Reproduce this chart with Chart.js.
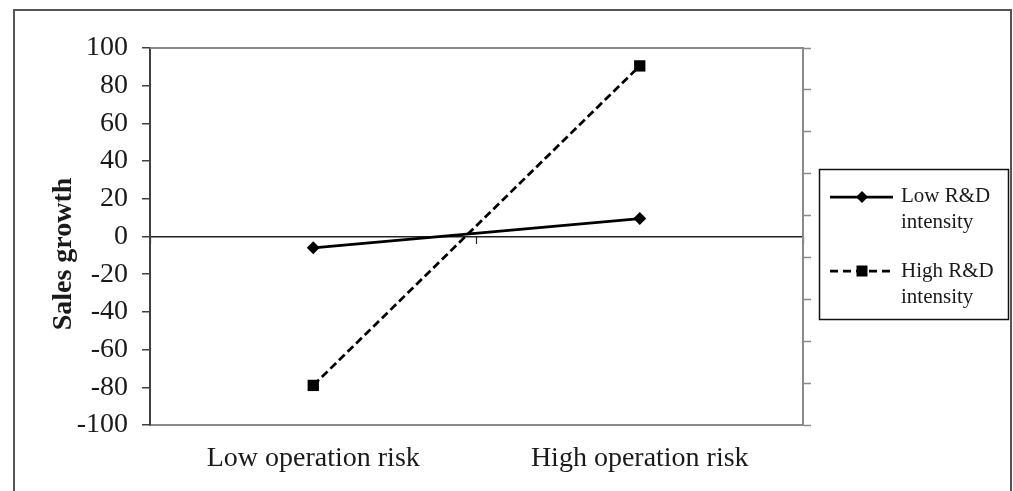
<!DOCTYPE html>
<html>
<head>
<meta charset="utf-8">
<script src="https://cdn.jsdelivr.net/npm/chart.js@4/dist/chart.umd.min.js"></script>
<style>
  html, body { margin: 0; padding: 0; background: #ffffff; overflow: hidden; }
  #wrap { position: relative; width: 1013px; height: 491px; }
  #frame { position: absolute; left: 13px; top: 9px; width: 999px; height: 500px; border: 2px solid #555555; box-sizing: border-box; }
  #c { position: absolute; left: 0; top: 0; }
</style>
</head>
<body>
<div id="wrap">
  <div id="frame"></div>
  <canvas id="c" width="1013" height="491"></canvas>
</div>
<script>
// ---- data ----
const categories = ['Low operation risk', 'High operation risk'];
const seriesNames = ['Low R&D intensity', 'High R&D intensity'];
const lowRD = [-6, 9.5];
const highRD = [-79, 90.5];
const yTicks = [-100, -80, -60, -40, -20, 0, 20, 40, 60, 80, 100];
const yTitle = 'Sales growth';

const FONT = "'Liberation Serif', 'Times New Roman', serif";
const TXT = '#1a1a1a';

function splitLegend(label) {
  const i = label.lastIndexOf(' ');
  return [label.slice(0, i), label.slice(i + 1)];
}

function drawMarker(ctx, style, x, y, r) {
  ctx.save();
  ctx.fillStyle = '#000';
  ctx.beginPath();
  if (style === 'rectRot') {
    ctx.moveTo(x - r, y); ctx.lineTo(x, y - r); ctx.lineTo(x + r, y); ctx.lineTo(x, y + r);
  } else {
    ctx.rect(x - r, y - r, 2 * r, 2 * r);
  }
  ctx.closePath();
  ctx.fill();
  ctx.restore();
}

const decorPlugin = {
  id: 'decor',
  afterDraw(chart) {
    const ctx = chart.ctx;
    const a = chart.chartArea;
    // top border of plot area
    ctx.save();
    ctx.strokeStyle = '#8a8a8a';
    ctx.lineWidth = 2;
    ctx.beginPath();
    ctx.moveTo(a.left, a.top);
    ctx.lineTo(a.right + 1, a.top);
    ctx.stroke();
    ctx.restore();

    // y axis title
    ctx.save();
    ctx.translate(64, 254);
    ctx.rotate(-Math.PI / 2);
    ctx.font = 'bold 28px ' + FONT;
    ctx.fillStyle = TXT;
    ctx.textAlign = 'center';
    ctx.textBaseline = 'middle';
    ctx.fillText(yTitle, 0, 0);
    ctx.restore();

    // legend
    const bx = 819, by = 169, bw = 189, bh = 150;
    ctx.save();
    ctx.strokeStyle = '#111';
    ctx.lineWidth = 1.5;
    ctx.strokeRect(bx + 0.5, by + 0.5, bw, bh);
    const rows = [
      { y: 197, base: 202 },
      { y: 271, base: 277 }
    ];
    chart.data.datasets.forEach((ds, i) => {
      const r = rows[i];
      ctx.save();
      ctx.strokeStyle = '#000';
      ctx.lineWidth = ds.borderWidth;
      ctx.setLineDash(ds.borderDash ? [8, 5] : []);
      ctx.beginPath();
      ctx.moveTo(830, r.y);
      ctx.lineTo(893, r.y);
      ctx.stroke();
      ctx.restore();
      drawMarker(ctx, ds.pointStyle, 862, r.y, ds.pointStyle === 'rectRot' ? 6 : 5.5);
      ctx.font = '21px ' + FONT;
      ctx.fillStyle = TXT;
      ctx.textAlign = 'left';
      ctx.textBaseline = 'alphabetic';
      const lines = splitLegend(ds.label);
      lines.forEach((t, k) => ctx.fillText(t, 901, r.base + k * 26));
    });
    ctx.restore();
  }
};

new Chart(document.getElementById('c'), {
  type: 'line',
  data: {
    labels: categories,
    datasets: [
      {
        label: seriesNames[0],
        data: lowRD,
        borderColor: '#000',
        backgroundColor: '#000',
        borderWidth: 2.75,
        pointStyle: 'rectRot',
        pointRadius: 6.5,
        pointHoverRadius: 6.5,
        pointBackgroundColor: '#000',
        pointBorderColor: '#000',
        pointBorderWidth: 0,
        tension: 0
      },
      {
        label: seriesNames[1],
        data: highRD,
        borderColor: '#000',
        backgroundColor: '#000',
        borderWidth: 2.75,
        borderDash: [8, 4],
        pointStyle: 'rect',
        pointRadius: 8,
        pointHoverRadius: 8,
        pointBackgroundColor: '#000',
        pointBorderColor: '#000',
        pointBorderWidth: 0,
        tension: 0
      }
    ]
  },
  options: {
    responsive: false,
    devicePixelRatio: 1,
    animation: false,
    events: [],
    layout: { padding: { left: 0, top: 48, right: 200, bottom: 0 } },
    plugins: { legend: { display: false }, tooltip: { enabled: false }, title: { display: false } },
    scales: {
      x: {
        type: 'category',
        position: 'bottom',
        offset: true,
        grid: { display: false, drawTicks: false, offset: true },
        border: { display: true, color: '#8a8a8a', width: 2 },
        ticks: { font: { family: FONT, size: 28 }, color: TXT, padding: 17, maxRotation: 0, autoSkip: false },
        afterFit(s) { s.height = 66; }
      },
      x2: {
        type: 'category',
        position: { y: 0 },
        offset: true,
        grid: { drawOnChartArea: false, offset: true, drawTicks: true, tickLength: 7, color: '#222', tickColor: '#222', tickWidth: 1.2 },
        border: { display: false },
        ticks: { display: false }
      },
      y: {
        type: 'linear',
        position: 'left',
        min: -100,
        max: 100,
        afterBuildTicks(s) { s.ticks = yTicks.map(v => ({ value: v })); },
        grid: {
          drawOnChartArea: true,
          drawTicks: true,
          tickLength: 8,
          color: (c) => (c.tick && c.tick.value === 0 ? '#222' : 'rgba(0,0,0,0)'),
          lineWidth: 1.5,
          tickColor: '#404040',
          tickWidth: 1.5
        },
        border: { display: true, color: '#404040', width: 2 },
        ticks: { font: { family: FONT, size: 28 }, color: TXT, padding: 14 },
        afterFit(s) { s.width = 150; }
      },
      y2: {
        type: 'linear',
        position: 'right',
        min: 0,
        max: 9,
        ticks: { stepSize: 1, callback: () => '', padding: 0 },
        grid: { drawOnChartArea: false, drawTicks: true, tickLength: 8, color: '#8a8a8a', tickColor: '#8a8a8a', tickWidth: 1.5 },
        border: { display: true, color: '#8a8a8a', width: 2 },
        afterFit(s) { s.width = 10; }
      }
    }
  },
  plugins: [decorPlugin]
});
</script>
</body>
</html>
